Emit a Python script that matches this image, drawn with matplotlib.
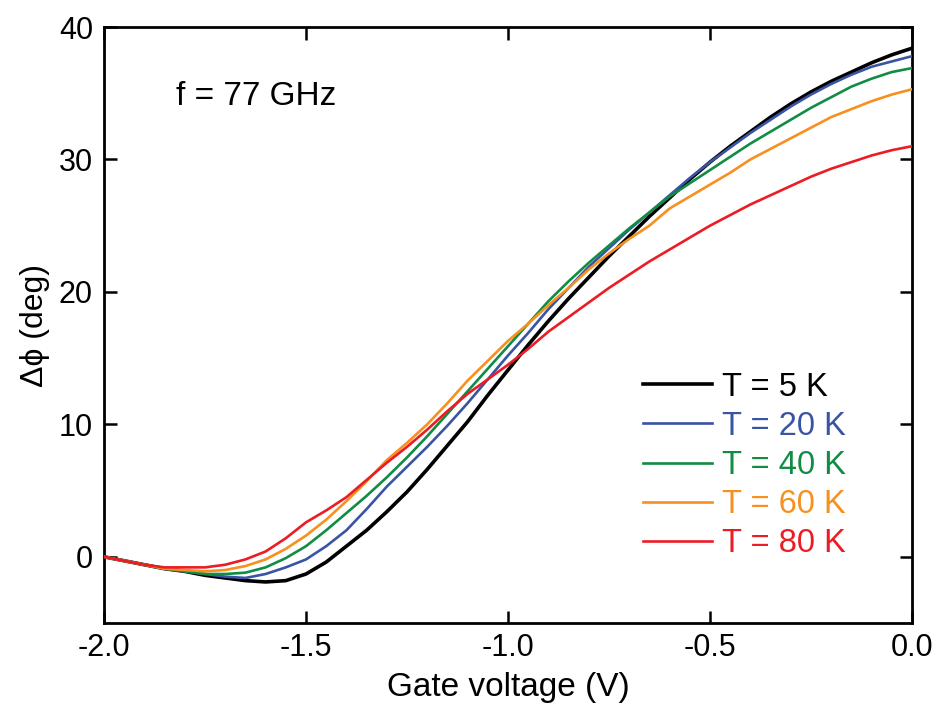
import numpy as np
import matplotlib
matplotlib.use("Agg")
import matplotlib.pyplot as plt


#**********************************************data********************************************************************#
gate_voltage = [-2.0, -1.95, -1.9, -1.85, -1.8, -1.75, -1.7, -1.65, -1.6, -1.55, -1.5,
                -1.45, -1.4, -1.35, -1.3, -1.25, -1.2, -1.15, -1.1, -1.05, -1.0,
                -0.95, -0.9, -0.85, -0.8, -0.75, -0.7, -0.65, -0.6, -0.55, -0.5,
                -0.45, -0.4, -0.35, -0.3, -0.25, -0.2, -0.15, -0.1, -0.05, 0.0]

phase_5K = [0.0, -0.3, -0.6, -0.9, -1.1, -1.4, -1.6, -1.8, -1.9, -1.8, -1.3,
            -0.4, 0.8, 2.0, 3.4, 4.9, 6.6, 8.4, 10.2, 12.2, 14.1,
            16.0, 17.8, 19.5, 21.1, 22.7, 24.2, 25.7, 27.1, 28.5, 29.8,
            31.0, 32.1, 33.2, 34.2, 35.1, 35.9, 36.6, 37.3, 37.9, 38.4]

phase_20K = [0.0, -0.3, -0.6, -0.9, -1.1, -1.3, -1.5, -1.6, -1.3, -0.8, -0.2,
             0.8, 2.0, 3.6, 5.3, 6.8, 8.3, 9.9, 11.6, 13.4, 15.2,
             16.9, 18.7, 20.3, 21.9, 23.3, 24.7, 26.0, 27.3, 28.6, 29.8,
             30.9, 32.0, 33.0, 34.0, 34.9, 35.7, 36.4, 37.0, 37.4, 37.8]

phase_40K = [0.0, -0.3, -0.6, -0.9, -1.1, -1.3, -1.3, -1.2, -0.8, -0.1, 0.8,
             2.0, 3.3, 4.6, 6.0, 7.5, 9.1, 10.8, 12.5, 14.2, 15.9,
             17.6, 19.3, 20.8, 22.2, 23.5, 24.8, 26.0, 27.2, 28.2, 29.2,
             30.2, 31.2, 32.1, 33.0, 33.9, 34.7, 35.5, 36.1, 36.6, 36.9]

phase_60K = [0.0, -0.3, -0.6, -0.9, -1.0, -1.1, -1.0, -0.7, -0.2, 0.6, 1.6,
             2.8, 4.2, 5.7, 7.3, 8.6, 10.0, 11.6, 13.3, 14.8, 16.3,
             17.6, 19.0, 20.3, 21.7, 22.9, 24.0, 25.0, 26.3, 27.2, 28.1,
             29.0, 30.0, 30.8, 31.6, 32.4, 33.2, 33.8, 34.4, 34.9, 35.3]

phase_80K = [0.0, -0.3, -0.6, -0.8, -0.8, -0.8, -0.6, -0.2, 0.4, 1.4, 2.6,
             3.5, 4.5, 5.8, 7.1, 8.3, 9.6, 11.0, 12.3, 13.4, 14.5,
             15.7, 17.0, 18.1, 19.2, 20.3, 21.3, 22.3, 23.2, 24.1, 25.0,
             25.8, 26.6, 27.3, 28.0, 28.7, 29.3, 29.8, 30.3, 30.7, 31.0]

labels = ["T = 5 K", "T = 20 K", "T = 40 K", "T = 60 K", "T = 80 K"]
colors = ["#000000", "#3a54a4", "#118c45", "#f7901e", "#ec1c24"]
widths = [2.6, 1.9, 1.9, 1.9, 1.9]


#**********************************************plot********************************************************************#
plt.rcParams["font.family"] = ["Liberation Sans", "DejaVu Sans"]
plt.rcParams["font.size"] = 22

fig = plt.figure(figsize=(9.36, 7.05), dpi=100)
ax = fig.add_axes([0.1111, 0.1163, 0.8633, 0.8454])

curves = [phase_5K, phase_20K, phase_40K, phase_60K, phase_80K]
for i in range(0, len(curves)):
    ax.plot(gate_voltage, curves[i], color=colors[i], linewidth=widths[i], label=labels[i],
            zorder=3 if i == 0 else 4)

ax.set_xlim(-2.0, 0.0)
ax.set_ylim(-5, 40)
ax.set_xticks([-2.0, -1.5, -1.0, -0.5, 0.0])
ax.set_xticklabels(["-2.0", "-1.5", "-1.0", "-0.5", "0.0"])
ax.set_yticks([0, 10, 20, 30, 40])

ax.tick_params(direction="in", length=9, width=1.8, top=True, right=True)
ax.tick_params(axis="x", pad=7)
ax.tick_params(axis="y", pad=8)
for spine in ax.spines.values():
    spine.set_linewidth(2.0)

ax.set_xlabel("Gate voltage (V)", fontsize=24, labelpad=7)
ax.set_ylabel("\u0394\u03d5 (deg)", fontsize=23, labelpad=6)

ax.text(0.089, 0.883, "f = 77 GHz", transform=ax.transAxes, va="center", ha="left", fontsize=24)

ax.legend(loc="lower right", bbox_to_anchor=(0.934, 0.085), frameon=False,
          labelcolor="linecolor", handlelength=2.1, handletextpad=0.3,
          labelspacing=0.25, borderaxespad=0, fontsize=23.5)

fig.savefig("out.png", dpi=100)
